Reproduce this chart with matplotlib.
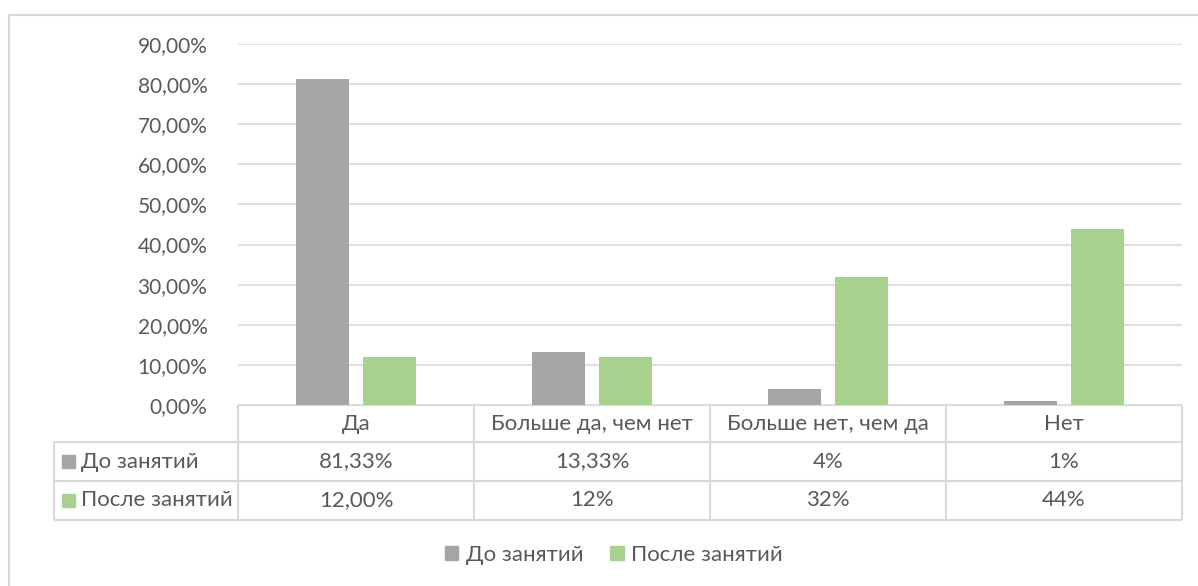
import matplotlib
matplotlib.use("Agg")
import matplotlib.pyplot as plt
from matplotlib.patches import Patch, Rectangle

plt.rcParams['font.family'] = ['Lato', 'DejaVu Sans']

categories = ["Да", "Больше да, чем нет", "Больше нет, чем да", "Нет"]
series_names = ["До занятий", "После занятий"]
before = [81.33, 13.33, 4.0, 1.0]
after = [12.0, 12.0, 32.0, 44.0]
before_labels = ["81,33%", "13,33%", "4%", "1%"]
after_labels = ["12,00%", "12%", "32%", "44%"]
yticks = [0, 10, 20, 30, 40, 50, 60, 70, 80, 90]

GRAY = '#a5a5a5'
GREEN = '#a9d18e'
TEXT = '#595959'
LINE = '#d9d9d9'
FS = 16

W, H = 1198, 586
fig = plt.figure(figsize=(W / 100, H / 100), dpi=100)

# overlay in pixel coordinates for the frame and data table
ov = fig.add_axes([0, 0, 1, 1])
ov.set_xlim(0, W)
ov.set_ylim(H, 0)
ov.axis('off')

# plot area (pixels)
px0, px1 = 238, 1182
py_top, py_bot = 44, 405

ax = fig.add_axes([px0 / W, 1 - py_bot / H, (px1 - px0) / W, (py_bot - py_top) / H])
x = list(range(len(categories)))
width = 0.225
off = 0.143
ax.bar([i - off for i in x], before, width, color=GRAY, zorder=3)
ax.bar([i + off for i in x], after, width, color=GREEN, zorder=3)
ax.set_xlim(-0.5, len(categories) - 0.5)
ax.set_ylim(0, 90)
ax.set_yticks(yticks)
ax.set_yticklabels([f"{v},00%" for v in yticks], fontsize=15, color=TEXT)
ax.tick_params(axis='y', length=0, pad=22)
ax.set_xticks([])
ax.grid(axis='y', color=LINE, linewidth=1.2, zorder=0)
for s in ax.spines.values():
    s.set_visible(False)

# outer frame (left and top edges visible)
ov.plot([8.5, 8.5, W], [H, 14.5, 14.5], color=LINE, linewidth=1.5)

# data table
col_w = (px1 - px0) / len(categories)
row_y = [405, 442, 481, 520]
lx = 54
kw = dict(color=LINE, linewidth=1.5, solid_capstyle='butt')
ov.plot([px0, px1], [row_y[0], row_y[0]], **kw)
for y in row_y[1:]:
    ov.plot([lx, px1], [y, y], **kw)
ov.plot([lx, lx], [row_y[1], row_y[3]], **kw)
for j in range(len(categories) + 1):
    xx = px0 + j * col_w
    ov.plot([xx, xx], [row_y[0], row_y[3]], **kw)

for j, cat in enumerate(categories):
    cx = px0 + (j + 0.5) * col_w
    ov.text(cx, (row_y[0] + row_y[1]) / 2, cat, ha='center', va='center', fontsize=FS, color=TEXT)
    ov.text(cx, (row_y[1] + row_y[2]) / 2, before_labels[j], ha='center', va='center', fontsize=FS, color=TEXT)
    ov.text(cx, (row_y[2] + row_y[3]) / 2, after_labels[j], ha='center', va='center', fontsize=FS, color=TEXT)

for k, (name, col) in enumerate(zip(series_names, [GRAY, GREEN])):
    yc = (row_y[k + 1] + row_y[k + 2]) / 2
    ov.add_patch(Rectangle((62, yc - 6.5), 13, 13, color=col))
    ov.text(81, yc, name, ha='left', va='center', fontsize=FS, color=TEXT)

handles = [Patch(color=GRAY), Patch(color=GREEN)]
fig.legend(handles, series_names, loc='center', bbox_to_anchor=(614 / W, 1 - 555 / H),
           ncol=2, frameon=False, fontsize=FS, labelcolor=TEXT,
           handlelength=0.6, handleheight=0.6, handletextpad=0.35, columnspacing=1.2)

fig.savefig("out.png", dpi=100)
